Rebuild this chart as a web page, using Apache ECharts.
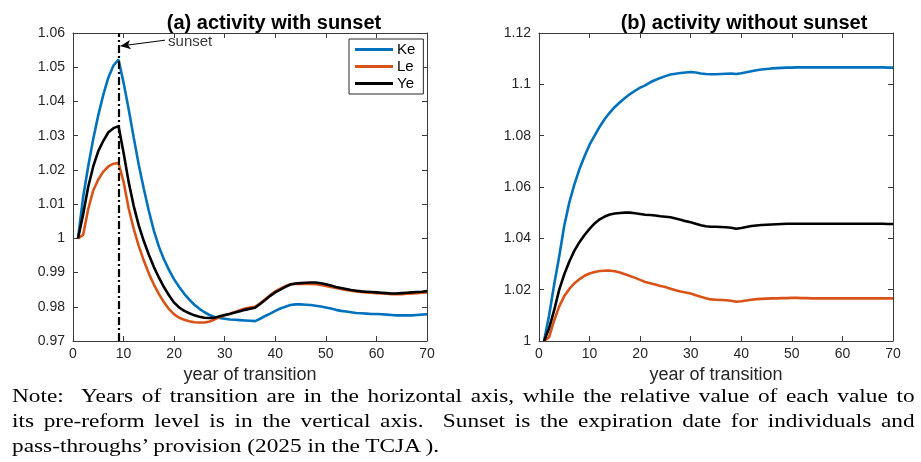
<!DOCTYPE html>
<html>
<head>
<meta charset="utf-8">
<script src="https://cdn.jsdelivr.net/npm/echarts@6/dist/echarts.min.js"></script>
<style>
html,body{margin:0;padding:0;background:#fff;}
#wrap{position:relative;width:921px;height:462px;overflow:hidden;}
#chart{position:absolute;left:0;top:0;width:921px;height:462px;}
#note{position:absolute;left:12px;top:384px;width:697px;font-family:"Liberation Serif","DejaVu Serif",serif;font-size:18px;line-height:25px;color:#000;transform:scaleX(1.295);transform-origin:0 0;}
#note .j{text-align:justify;text-align-last:justify;white-space:nowrap;}
</style>
</head>
<body>
<div id="wrap">
<div id="chart"></div>
<div id="note">
<div class="j">Note: &nbsp;Years of transition are in the horizontal axis, while the relative value of each value to</div>
<div class="j">its pre-reform level is in the vertical axis. &nbsp;Sunset is the expiration date for individuals and</div>
<div>pass-throughs’ provision (2025 in the TCJA ).</div>
</div>
</div>
<script>
// ---------- data ----------
const years = [1,2,3,4,5,6,7,8,9,10,11,12,13,14,15,16,17,18,19,20,21,22,23,24,25,26,27,28,29,30,31,32,33,34,35,36,37,38,39,40,41,42,43,44,45,46,47,48,49,50,51,52,53,54,55,56,57,58,59,60,61,62,63,64,65,66,67,68,69,70];
const xTicks = [0,10,20,30,40,50,60,70];
const seriesNames = ['Ke','Le','Ye'];
const sunsetYear = 9;
const sunsetText = 'sunset';
const sunsetArrowFrom = [18.2, 1.0579];
const sunsetArrowTo = [9.4, 1.0562];

// (a) activity with sunset
const keSunset = [1.000,1.012,1.021,1.029,1.036,1.042,1.047,1.0505,1.0522,1.0455,1.0378,1.0295,1.0215,1.0145,1.0080,1.0022,0.9975,0.9938,0.9907,0.9880,0.9858,0.9838,0.9821,0.9806,0.9794,0.9784,0.9776,0.9770,0.9767,0.9765,0.9763,0.9762,0.9761,0.9760,0.9759,0.9758,0.9765,0.9773,0.9780,0.9788,0.9795,0.9800,0.9805,0.9807,0.9807,0.9806,0.9805,0.9803,0.9801,0.9798,0.9795,0.9791,0.9788,0.9786,0.9784,0.9782,0.9781,0.9780,0.9779,0.9779,0.9778,0.9777,0.9776,0.9775,0.9775,0.9775,0.9775,0.9776,0.9777,0.9778];
const leSunset = [1.000,1.001,1.0085,1.014,1.0172,1.0195,1.021,1.0218,1.022,1.0165,1.0088,1.0028,0.9978,0.9935,0.9897,0.9865,0.9837,0.9813,0.9793,0.9778,0.9768,0.9762,0.9758,0.9755,0.9754,0.9754,0.9757,0.9763,0.9770,0.9775,0.9780,0.9785,0.9790,0.9795,0.9798,0.9800,0.9810,0.9822,0.9834,0.9845,0.9853,0.9860,0.9866,0.9867,0.9867,0.9867,0.9867,0.9866,0.9864,0.9861,0.9858,0.9855,0.9852,0.9849,0.9847,0.9845,0.9843,0.9842,0.9841,0.9840,0.9839,0.9838,0.9837,0.9837,0.9837,0.9838,0.9839,0.9840,0.9841,0.9842];
const yeSunset = [1.000,1.007,1.015,1.021,1.0255,1.0285,1.031,1.0322,1.0328,1.025,1.0165,1.0095,1.0038,0.9992,0.9952,0.9916,0.9885,0.9857,0.9833,0.9812,0.9798,0.9788,0.9781,0.9775,0.9771,0.9768,0.9767,0.9768,0.9772,0.9776,0.9779,0.9783,0.9787,0.9791,0.9794,0.9797,0.9808,0.9820,0.9832,0.9842,0.9850,0.9858,0.9865,0.9868,0.9869,0.9870,0.9871,0.9871,0.9869,0.9866,0.9862,0.9858,0.9855,0.9852,0.9849,0.9847,0.9845,0.9844,0.9843,0.9842,0.9841,0.9840,0.9839,0.9839,0.9840,0.9841,0.9842,0.9843,0.9844,0.9846];

// (b) activity without sunset
const keNoSunset = [1.000,1.010,1.022,1.033,1.045,1.054,1.061,1.067,1.072,1.0765,1.080,1.0835,1.0865,1.089,1.0912,1.0930,1.0947,1.0962,1.0975,1.0987,1.0996,1.1008,1.1017,1.1025,1.1032,1.1038,1.1041,1.1044,1.1046,1.1048,1.1046,1.1042,1.1040,1.1039,1.1039,1.1040,1.1041,1.1042,1.1040,1.1043,1.1047,1.1051,1.1055,1.1058,1.1060,1.1062,1.1063,1.1064,1.1065,1.1065,1.1066,1.1066,1.1066,1.1066,1.1066,1.1066,1.1066,1.1066,1.1066,1.1066,1.1066,1.1066,1.1066,1.1066,1.1066,1.1066,1.1066,1.1066,1.1065,1.1065];
const leNoSunset = [1.000,1.0015,1.008,1.0135,1.0175,1.0203,1.0225,1.0241,1.0254,1.0263,1.0269,1.0273,1.0274,1.0274,1.0272,1.0267,1.0260,1.0253,1.0246,1.0238,1.0230,1.0225,1.0220,1.0214,1.0210,1.0204,1.0198,1.0193,1.0189,1.0185,1.0178,1.0172,1.0167,1.0162,1.0161,1.0160,1.0159,1.0157,1.0153,1.0155,1.0158,1.0161,1.0163,1.0164,1.0165,1.0166,1.0166,1.0167,1.0167,1.0168,1.0168,1.0167,1.0167,1.0166,1.0166,1.0166,1.0166,1.0166,1.0166,1.0166,1.0166,1.0166,1.0166,1.0166,1.0166,1.0166,1.0166,1.0166,1.0166,1.0166];
const yeNoSunset = [1.000,1.005,1.012,1.020,1.026,1.031,1.0352,1.0385,1.0413,1.0437,1.0458,1.0474,1.0485,1.0493,1.0497,1.0499,1.0500,1.0500,1.0498,1.0495,1.0492,1.0491,1.0489,1.0486,1.0484,1.0482,1.0477,1.0472,1.0467,1.0463,1.0457,1.0451,1.0447,1.0445,1.0445,1.0444,1.0443,1.0441,1.0437,1.0440,1.0444,1.0448,1.0450,1.0452,1.0453,1.0454,1.0455,1.0456,1.0457,1.0457,1.0457,1.0457,1.0457,1.0457,1.0457,1.0457,1.0457,1.0457,1.0457,1.0457,1.0457,1.0457,1.0457,1.0457,1.0457,1.0457,1.0457,1.0457,1.0456,1.0456];

const yTicksA = [0.97,0.98,0.99,1,1.01,1.02,1.03,1.04,1.05,1.06];
const yTicksB = [1,1.02,1.04,1.06,1.08,1.1,1.12];

// ---------- chart ----------
const colors = {Ke:'#0072BD', Le:'#D95319', Ye:'#000000'};
const axisColor = '#3a3a3a';
const labelColor = '#262626';
const FONT = '"Liberation Sans", Arial, Helvetica, sans-serif';

function pairs(vals){ return years.map((y,i)=>[y, vals[i]]); }
function fmtY(v){ return String(+(+v).toFixed(2)); }

function xAxes(gi){
  const base = {gridIndex:gi, type:'value', min:xTicks[0], max:xTicks[xTicks.length-1], interval:10,
    splitLine:{show:false}, axisLine:{show:true, onZero:false, lineStyle:{color:axisColor, width:1}},
    axisTick:{show:true, inside:true, length:5, lineStyle:{color:axisColor}}};
  return [
    Object.assign({}, base, {position:'bottom', name:'year of transition', nameLocation:'middle', nameGap:24,
      nameTextStyle:{fontFamily:FONT, fontSize:18, color:labelColor},
      axisLabel:{fontFamily:FONT, fontSize:14, color:labelColor, margin:6}}),
    Object.assign({}, base, {position:'top', axisLabel:{show:false}})
  ];
}
function yAxes(gi, ticks, interval){
  const base = {gridIndex:gi, type:'value', min:ticks[0], max:ticks[ticks.length-1], interval:interval,
    splitLine:{show:false}, axisLine:{show:true, onZero:false, lineStyle:{color:axisColor, width:1}},
    axisTick:{show:true, inside:true, length:5, lineStyle:{color:axisColor}}};
  return [
    Object.assign({}, base, {position:'left', axisLabel:{fontFamily:FONT, fontSize:14, color:labelColor, margin:8, formatter:fmtY}}),
    Object.assign({}, base, {position:'right', axisLabel:{show:false}})
  ];
}
function lineSeries(name, vals, xi, yi){
  return {name:name, type:'line', xAxisIndex:xi, yAxisIndex:yi, data:pairs(vals), showSymbol:false, symbol:'none',
    smooth:false, animation:false, lineStyle:{color:colors[name], width:2.6}, itemStyle:{color:colors[name]}, z:3};
}

const chart = echarts.init(document.getElementById('chart'), null, {renderer:'canvas'});
const option = {
  animation:false,
  backgroundColor:'#ffffff',
  title:[
    {text:'(a) activity with sunset', left:269, top:8, textAlign:'center', textStyle:{fontFamily:FONT, fontSize:20, fontWeight:'bold', color:'#000'}},
    {text:'(b) activity without sunset', left:739, top:8, textAlign:'center', textStyle:{fontFamily:FONT, fontSize:20, fontWeight:'bold', color:'#000'}}
  ],
  legend:{data:seriesNames, orient:'vertical', left:349, top:39, itemWidth:38, itemHeight:3, itemGap:2,
    icon:'rect', backgroundColor:'#fff', borderColor:'#262626', borderWidth:1, padding:[3,8,3,6],
    textStyle:{fontFamily:FONT, fontSize:15, color:'#000', padding:[0,0,0,-1]}},
  grid:[
    {left:73, top:33, width:354, height:308},
    {left:539, top:33, width:354, height:308}
  ],
  xAxis:[].concat(xAxes(0), xAxes(1)),
  yAxis:[].concat(yAxes(0, yTicksA, 0.01), yAxes(1, yTicksB, 0.02)),
  series:[
    lineSeries('Ke', keSunset, 0, 0),
    lineSeries('Le', leSunset, 0, 0),
    lineSeries('Ye', yeSunset, 0, 0),
    lineSeries('Ke', keNoSunset, 2, 2),
    lineSeries('Le', leNoSunset, 2, 2),
    lineSeries('Ye', yeNoSunset, 2, 2),
    {name:'sunsetMark', type:'scatter', xAxisIndex:0, yAxisIndex:0, symbolSize:0.1,
      data:[{value:sunsetArrowFrom, label:{show:true, formatter:sunsetText, position:'right', distance:3, offset:[0,2], fontFamily:FONT, fontSize:15, color:'#000'}}],
      z:5,
      markLine:{silent:true, animation:false, symbol:['none','none'], label:{show:false},
        lineStyle:{color:'#000', width:2.2, type:[8,3,2,3]},
        data:[
          {xAxis:sunsetYear},
          [{coord:sunsetArrowFrom, symbol:'none'}, {coord:sunsetArrowTo, symbol:'arrow', symbolSize:[7,10], lineStyle:{type:'solid', width:1}}]
        ]}}
  ]
};
chart.setOption(option);
</script>
</body>
</html>
